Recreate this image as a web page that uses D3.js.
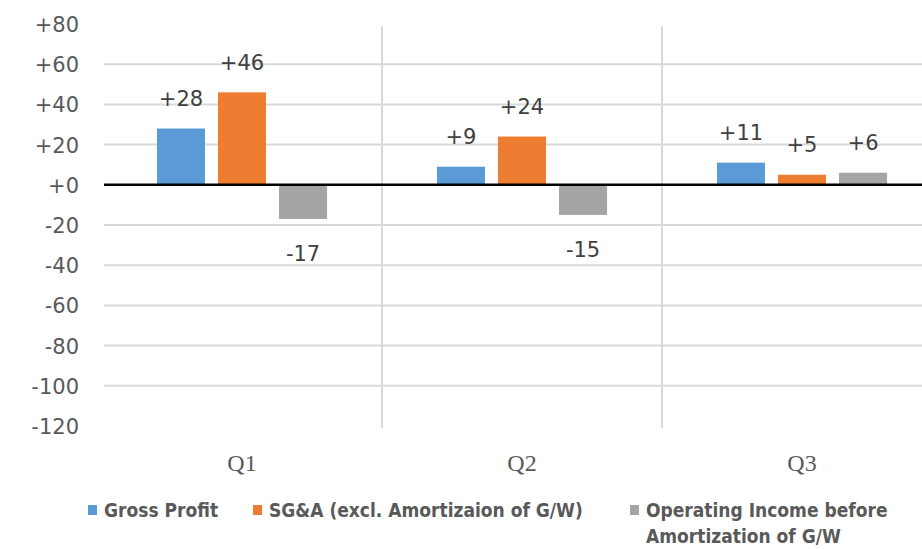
<!DOCTYPE html>
<html>
<head>
<meta charset="utf-8">
<script src="https://cdn.jsdelivr.net/npm/d3@7"></script>
<style>
  body { margin: 0; background: #fff; }
  svg { display: block; }
</style>
</head>
<body>
<div id="chart"></div>
<script>
// data
const quarters = ["Q1", "Q2", "Q3"];
const seriesNames = ["Gross Profit", "SG&A (excl. Amortizaion of G/W)", "Operating Income before Amortization of G/W"];
const grossProfit = [28, 9, 11];
const sga = [46, 24, 5];
const opIncome = [-17, -15, 6];
const yTicks = [80, 60, 40, 20, 0, -20, -40, -60, -80, -100, -120];
const legendLines = [["Gross Profit"], ["SG&A (excl. Amortizaion of G/W)"], ["Operating Income before", "Amortization of G/W"]];
const colors = ["#5B9BD5", "#ED7D31", "#A5A5A5"];

const W = 922, H = 549;
const plot = {left: 104, top: 24, bottom: 426};

const svg = d3.select("#chart").append("svg")
  .attr("width", W)
  .attr("height", H);

// scales - the plot runs off the right edge in the original
const x0 = d3.scaleBand()
  .domain(quarters)
  .range([102, 942]);

const x1 = d3.scaleBand()
  .domain(seriesNames)
  .range([0, x0.bandwidth()])
  .paddingInner(0.213)
  .paddingOuter(0.9);

const y = d3.scaleLinear()
  .domain([-120, 80])
  .range([plot.bottom, plot.top]);

const fmt = d => (d >= 0 ? "+" : "") + d;

// horizontal gridlines (no line at the very top/bottom)
svg.selectAll("line.hgrid")
  .data(yTicks.filter(d => d !== 80 && d !== -120 && d !== 0))
  .enter().append("line")
  .attr("class", "hgrid")
  .attr("x1", plot.left)
  .attr("x2", W)
  .attr("y1", d => y(d))
  .attr("y2", d => y(d))
  .style("stroke", "#D9D9D9")
  .style("stroke-width", 2);

// vertical separators between quarters
svg.selectAll("line.vgrid")
  .data(quarters.slice(1))
  .enter().append("line")
  .attr("class", "vgrid")
  .attr("x1", d => x0(d))
  .attr("x2", d => x0(d))
  .attr("y1", plot.top + 2)
  .attr("y2", plot.bottom + 2)
  .style("stroke", "#D9D9D9")
  .style("stroke-width", 2);

// y axis labels
const yAxis = d3.axisLeft(y)
  .tickValues(yTicks)
  .tickFormat(fmt)
  .tickSize(0)
  .tickPadding(0);

svg.append("g")
  .attr("transform", "translate(79,0)")
  .call(yAxis)
  .call(g => g.select(".domain").remove())
  .selectAll("text")
  .style("font-family", "DejaVu Sans")
  .style("font-size", "21px")
  .style("fill", "#595959")
  .attr("dy", "0.36em");

// bars
const rows = quarters.map((q, i) => ({
  q: q,
  vals: [grossProfit[i], sga[i], opIncome[i]]
}));

const groups = svg.selectAll("g.grp")
  .data(rows)
  .enter().append("g")
  .attr("class", "grp")
  .attr("transform", d => "translate(" + x0(d.q) + ",0)");

groups.selectAll("rect")
  .data(d => d.vals.map((v, j) => ({name: seriesNames[j], v: v, c: colors[j]})))
  .enter().append("rect")
  .attr("x", d => x1(d.name))
  .attr("width", x1.bandwidth())
  .attr("y", d => y(Math.max(0, d.v)))
  .attr("height", d => Math.abs(y(d.v) - y(0)))
  .style("fill", d => d.c);

// data labels
groups.selectAll("text.lbl")
  .data(d => d.vals.map((v, j) => ({name: seriesNames[j], v: v})))
  .enter().append("text")
  .attr("class", "lbl")
  .attr("x", d => x1(d.name) + x1.bandwidth() / 2)
  .attr("y", d => d.v >= 0 ? y(d.v) - 30 : y(d.v) + 34)
  .attr("dy", "0.36em")
  .attr("text-anchor", "middle")
  .style("font-family", "DejaVu Sans")
  .style("font-size", "21px")
  .style("fill", "#404040")
  .text(d => fmt(d.v));

// zero line
svg.append("line")
  .attr("x1", plot.left)
  .attr("x2", W)
  .attr("y1", y(0))
  .attr("y2", y(0))
  .style("stroke", "#000")
  .style("stroke-width", 2.5);

// category labels
svg.selectAll("text.cat")
  .data(quarters)
  .enter().append("text")
  .attr("class", "cat")
  .attr("x", d => x0(d) + x0.bandwidth() / 2)
  .attr("y", 463)
  .attr("dy", "0.34em")
  .attr("text-anchor", "middle")
  .style("font-family", "Liberation Serif")
  .style("font-size", "24px")
  .style("fill", "#595959")
  .text(d => d);

// legend
const legendX = [88, 253, 630];
const legend = svg.selectAll("g.leg")
  .data(legendLines)
  .enter().append("g")
  .attr("class", "leg")
  .attr("transform", (d, i) => "translate(" + legendX[i] + ",510)");

legend.append("rect")
  .attr("x", 0)
  .attr("y", -5)
  .attr("width", 9)
  .attr("height", 10)
  .style("fill", (d, i) => colors[i]);

legend.append("text")
  .attr("x", 16)
  .attr("y", 0)
  .style("font-family", "DejaVu Sans Condensed")
  .style("font-weight", "bold")
  .style("font-size", "19px")
  .style("fill", "#595959")
  .selectAll("tspan")
  .data(d => d)
  .enter().append("tspan")
  .attr("x", 16)
  .attr("dy", (d, i) => i === 0 ? "0.36em" : "26px")
  .text(d => d);
</script>
</body>
</html>
